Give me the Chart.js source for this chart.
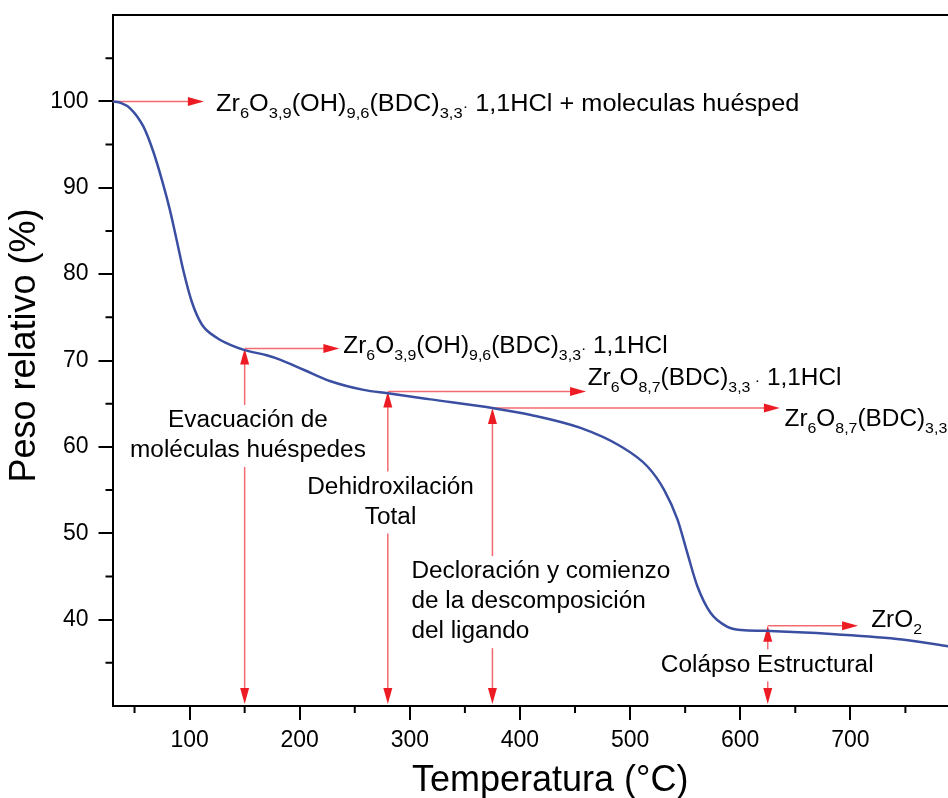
<!DOCTYPE html>
<html>
<head>
<meta charset="utf-8">
<script src="https://cdn.jsdelivr.net/npm/chart.js@4.4.1/dist/chart.umd.min.js"></script>
<style>
  html, body { margin: 0; padding: 0; background: #fff; overflow: hidden; }
  canvas { display: block; }
</style>
</head>
<body>
<canvas id="tga" width="1000" height="820"></canvas>
<script>
// TGA curve
const temperatures = [30, 38, 46, 58, 67, 76, 82, 88, 94, 102, 111, 125, 137, 150, 170, 182, 204, 228, 258, 280,
  319, 375, 410, 455, 491, 516, 531, 543, 552, 561, 573, 588, 601, 622, 686, 747, 790];
const weights = [100, 99.8, 99.2, 97.1, 94.2, 90.4, 87.5, 84.1, 80.6, 76.8, 74.2, 72.6, 71.8, 71.2, 70.6, 70.1, 68.9, 67.6, 66.6, 66.2,
  65.5, 64.5, 63.7, 62.2, 60.1, 57.7, 55.0, 51.6, 47.7, 43.9, 40.8, 39.2, 38.8, 38.7, 38.3, 37.7, 36.9];

// stage markers: temperature of each vertical arrow and the weight where it meets the curve
const stageTemps = [150, 280, 375, 625];
const stageWeights = [71.4, 66.4, 64.5, 39.3];
// horizontal pointers: start temp, weight level, arrow tip temp
const pointerFrom = [30, 150, 280, 375, 625];
const pointerLevel = [100, 71.4, 66.4, 64.5, 39.3];
const pointerTo = [113, 236, 460, 636, 707];

const xTicks = { min: 30, max: 825, step: 50 };
const yTicks = { min: 30, max: 110, step: 5 };

const FONT = '"Liberation Sans", Arial, sans-serif';
const CURVE = '#3b4fa2';
const RED = '#ed1c24';
const RED_LINE = 'rgba(237, 28, 36, 0.65)';
const STRETCH = 1.06; // the original lettering is a bit wide

const formulaLabels = [
  { at: [124, 98.8], stretch: 1.1, parts: [['Zr'], ['6', 'sub'], ['O'], ['3,9', 'sub'], ['(OH)'], ['9,6', 'sub'], ['(BDC)'], ['3,3', 'sub'], ['\u00b7', 'dot'], [' 1,1HCl + moleculas huésped']] },
  { at: [239.6, 70.7], parts: [['Zr'], ['6', 'sub'], ['O'], ['3,9', 'sub'], ['(OH)'], ['9,6', 'sub'], ['(BDC)'], ['3,3', 'sub'], ['\u00b7', 'dot'], [' 1,1HCl']] },
  { at: [461.5, 67.0], parts: [['Zr'], ['6', 'sub'], ['O'], ['8,7', 'sub'], ['(BDC)'], ['3,3', 'sub'], [' \u00b7', 'dot'], [' 1,1HCl']] },
  { at: [640.2, 62.3], parts: [['Zr'], ['6', 'sub'], ['O'], ['8,7', 'sub'], ['(BDC)'], ['3,3', 'sub']] },
  { at: [718.9, 39.0], parts: [['ZrO'], ['2', 'sub']] },
];

const stageLabels = [
  { at: [153, 63.0], align: 'center', lines: ['Evacuación de', 'moléculas huéspedes'] },
  { at: [282.5, 55.3], align: 'center', lines: ['Dehidroxilación', 'Total'] },
  { at: [301.4, 45.5], align: 'left', lines: ['Decloración y comienzo', 'de la descomposición', 'del ligando'] },
  { at: [624.5, 34.7], align: 'center', lines: ['Colápso Estructural'] },
];

function arrowHead(ctx, x, y, dir) {
  const len = 16, half = 4.5;
  ctx.beginPath();
  ctx.moveTo(x, y);
  if (dir === 'right') { ctx.lineTo(x - len, y - half); ctx.lineTo(x - len, y + half); }
  if (dir === 'up') { ctx.lineTo(x - half, y + len); ctx.lineTo(x + half, y + len); }
  if (dir === 'down') { ctx.lineTo(x - half, y - len); ctx.lineTo(x + half, y - len); }
  ctx.closePath();
  ctx.fill();
}

function drawRich(ctx, parts, x, y, stretch) {
  ctx.save();
  ctx.translate(x, y);
  ctx.scale(stretch, 1);
  ctx.textAlign = 'left';
  ctx.textBaseline = 'alphabetic';
  let cx = 0;
  parts.forEach(([text, role]) => {
    ctx.font = (role ? '15px ' : '23px ') + FONT;
    ctx.fillText(text, cx, role === 'sub' ? 6 : -1);
    cx += ctx.measureText(text).width;
  });
  ctx.restore();
}

const annotations = {
  id: 'annotations',
  beforeDatasetsDraw(chart) {
    const { ctx, scales: { x, y }, chartArea } = chart;
    ctx.save();

    // frame top / right
    ctx.strokeStyle = '#000';
    ctx.lineWidth = 2;
    ctx.beginPath();
    ctx.moveTo(chartArea.left, chartArea.top);
    ctx.lineTo(chartArea.right, chartArea.top);
    ctx.lineTo(chartArea.right, chartArea.bottom);
    ctx.stroke();

    ctx.strokeStyle = RED_LINE;
    ctx.fillStyle = RED;
    ctx.lineWidth = 1.5;

    pointerFrom.forEach((t0, i) => {
      const py = y.getPixelForValue(pointerLevel[i]);
      const x0 = x.getPixelForValue(t0);
      const x1 = x.getPixelForValue(pointerTo[i]);
      ctx.beginPath();
      ctx.moveTo(x0, py);
      ctx.lineTo(x1 - 10, py);
      ctx.stroke();
      arrowHead(ctx, x1, py, 'right');
    });

    stageTemps.forEach((t, i) => {
      const px = x.getPixelForValue(t);
      const top = y.getPixelForValue(stageWeights[i]);
      const bottom = y.getPixelForValue(yTicks.min);
      ctx.beginPath();
      ctx.moveTo(px, top + 10);
      ctx.lineTo(px, bottom - 10);
      ctx.stroke();
      arrowHead(ctx, px, top, 'up');
      arrowHead(ctx, px, bottom - 2, 'down');
    });

    // stage captions sit on white so they break the arrows
    ctx.font = '23px ' + FONT;
    ctx.textBaseline = 'middle';
    stageLabels.forEach((lab) => {
      const px = x.getPixelForValue(lab.at[0]);
      const py = y.getPixelForValue(lab.at[1]);
      const w = Math.max(...lab.lines.map((l) => ctx.measureText(l).width)) * STRETCH;
      const left = lab.align === 'center' ? px - w / 2 : px;
      const h = (lab.lines.length - 1) * 30;
      ctx.fillStyle = '#fff';
      ctx.fillRect(left - 3, py - 16, w + 6, h + 32);
      ctx.fillStyle = '#000';
      ctx.save();
      ctx.translate(left, py);
      ctx.scale(STRETCH, 1);
      ctx.textAlign = lab.align;
      const ax = lab.align === 'center' ? w / 2 / STRETCH : 0;
      lab.lines.forEach((l, j) => ctx.fillText(l, ax, j * 30));
      ctx.restore();
    });

    ctx.fillStyle = '#000';
    formulaLabels.forEach((lab) => {
      drawRich(ctx, lab.parts, x.getPixelForValue(lab.at[0]), y.getPixelForValue(lab.at[1]), lab.stretch || STRETCH);
    });

    ctx.restore();
  },
  afterDraw(chart) {
    // minor ticks, half length
    const { ctx, scales: { x, y }, chartArea } = chart;
    ctx.save();
    ctx.strokeStyle = '#000';
    ctx.lineWidth = 2;
    ctx.beginPath();
    x.ticks.forEach((t) => {
      if (t.value % 100 !== 0) {
        const px = x.getPixelForValue(t.value);
        ctx.moveTo(px, chartArea.bottom);
        ctx.lineTo(px, chartArea.bottom + 7);
      }
    });
    y.ticks.forEach((t) => {
      if (t.value % 10 !== 0 && t.value > yTicks.min && t.value < yTicks.max) {
        const py = y.getPixelForValue(t.value);
        ctx.moveTo(chartArea.left - 7, py);
        ctx.lineTo(chartArea.left, py);
      }
    });
    ctx.stroke();
    ctx.restore();
  },
};

const isMajorX = (v) => v % 100 === 0;
const isMajorY = (v) => v % 10 === 0 && v >= 40 && v <= 100;

new Chart(document.getElementById('tga'), {
  type: 'line',
  data: {
    labels: temperatures,
    datasets: [{
      data: temperatures.map((t, i) => ({ x: t, y: weights[i] })),
      borderColor: CURVE,
      borderWidth: 2.5,
      pointRadius: 0,
      fill: false,
      cubicInterpolationMode: 'monotone',
    }],
  },
  options: {
    responsive: false,
    animation: false,
    devicePixelRatio: 1,
    layout: { padding: { top: 15, right: 12, bottom: 0, left: 0 } },
    plugins: { legend: { display: false }, tooltip: { enabled: false } },
    scales: {
      x: {
        type: 'linear',
        min: xTicks.min,
        max: xTicks.max,
        afterFit: (s) => { s.height = 114; s.paddingLeft = 0; s.paddingRight = 0; },
        border: { display: true, color: '#000', width: 2 },
        grid: {
          drawOnChartArea: false,
          drawTicks: true,
          tickLength: 14,
          lineWidth: 2,
          color: (c) => (c.tick && isMajorX(c.tick.value) ? '#000' : 'rgba(0,0,0,0)'),
        },
        ticks: {
          stepSize: xTicks.step,
          includeBounds: false,
          autoSkip: false,
          maxRotation: 0,
          padding: 7,
          color: '#000',
          font: { family: FONT, size: 23 },
          callback: (v) => (isMajorX(v) && v <= 700 ? v : ''),
        },
        title: {
          display: true,
          text: 'Temperatura (°C)',
          color: '#000',
          font: { family: FONT, size: 36 },
          padding: { top: 0, bottom: 17.4 },
        },
      },
      y: {
        min: yTicks.min,
        max: yTicks.max,
        afterFit: (s) => { s.width = 112.5; s.paddingTop = 0; s.paddingBottom = 0; },
        border: { display: true, color: '#000', width: 2 },
        grid: {
          drawOnChartArea: false,
          drawTicks: true,
          tickLength: 14,
          lineWidth: 2,
          color: (c) => (c.tick && isMajorY(c.tick.value) ? '#000' : 'rgba(0,0,0,0)'),
        },
        ticks: {
          stepSize: yTicks.step,
          autoSkip: false,
          padding: 10,
          color: '#000',
          font: { family: FONT, size: 23 },
          callback: (v) => (isMajorY(v) ? v : ''),
        },
        title: {
          display: true,
          // leading spaces lift the caption a little, as in the original
          text: '   Peso relativo (%)',
          color: '#000',
          font: { family: FONT, size: 36 },
          padding: { top: 3.9, bottom: 0 },
        },
      },
    },
  },
  plugins: [annotations],
});
</script>
</body>
</html>
